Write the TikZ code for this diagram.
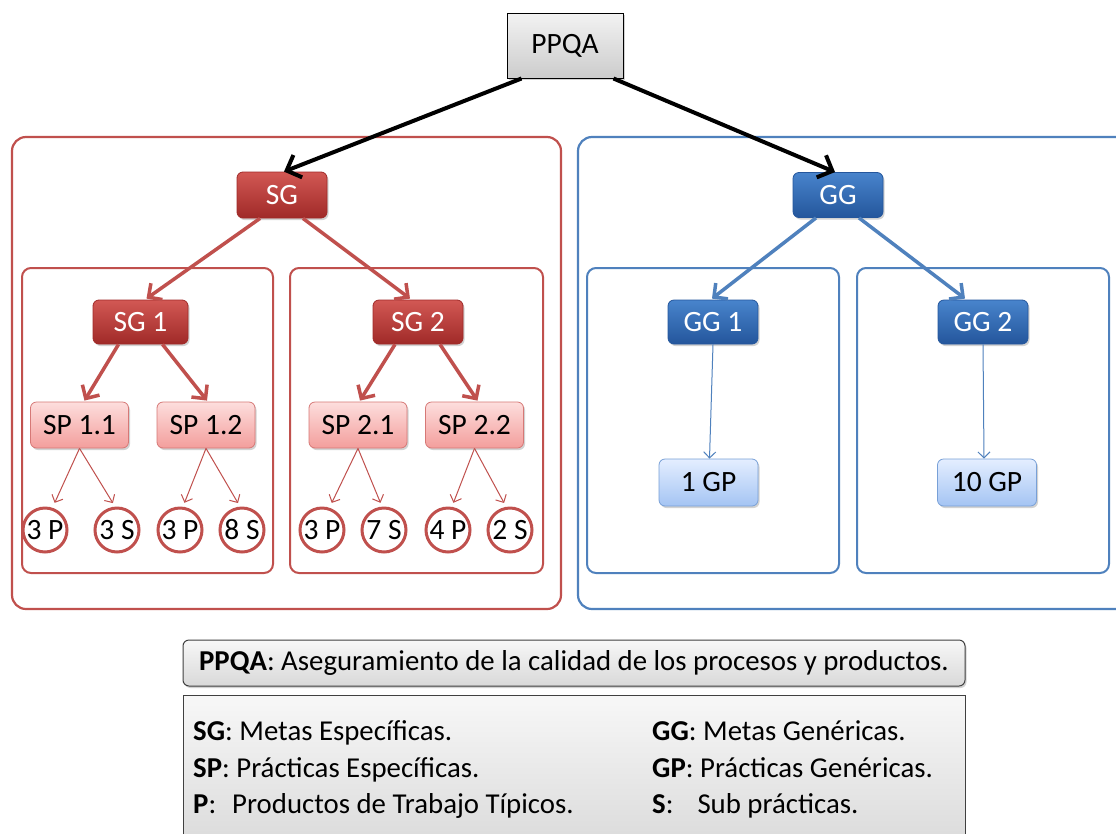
\documentclass[tikz,border=0pt]{standalone}
\usepackage{fontspec}
\setmainfont{Carlito}
\usetikzlibrary{arrows.meta,shadows}
\definecolor{redB}{RGB}{192,80,77}
\definecolor{redT}{RGB}{210,88,84}
\definecolor{redD}{RGB}{160,42,40}
\definecolor{pinkT}{RGB}{253,222,221}
\definecolor{pinkB}{RGB}{243,158,156}
\definecolor{pinkE}{RGB}{214,120,118}
\definecolor{blueB}{RGB}{79,129,189}
\definecolor{blueT}{RGB}{72,132,204}
\definecolor{blueD}{RGB}{36,86,156}
\definecolor{lbT}{RGB}{228,238,255}
\definecolor{lbB}{RGB}{164,196,243}
\definecolor{lbE}{RGB}{120,160,215}
\tikzset{
  x=1pt,y=-1pt,
  every node/.style={font=\fontsize{29.5}{33}\selectfont, inner sep=0pt},
  shad/.style={drop shadow={shadow xshift=1.5pt,shadow yshift=-2pt,opacity=0.35}},
  outerred/.style={draw=redB,line width=2.2pt,rounded corners=14pt},
  outerblue/.style={draw=blueB,line width=2.2pt,rounded corners=14pt},
  innerred/.style={draw=redB,line width=2pt,rounded corners=9pt},
  innerblue/.style={draw=blueB,line width=2pt,rounded corners=9pt},
  ppqabox/.style={draw=black,line width=1pt,top color=gray!10,bottom color=gray!40,minimum width=116pt,minimum height=65pt,shad},
  goalred/.style={draw=redD,line width=0.8pt,rounded corners=6pt,top color=redT,bottom color=redD,text=white,minimum width=90pt,minimum height=46pt,shad},
  goalblue/.style={draw=blueD,line width=0.8pt,rounded corners=6pt,top color=blueT,bottom color=blueD,text=white,minimum width=90pt,minimum height=45pt,shad},
  spbox/.style={draw=pinkE,line width=0.8pt,rounded corners=6pt,top color=pinkT,bottom color=pinkB,minimum width=98pt,minimum height=46pt,shad},
  gpbox/.style={draw=lbE,line width=0.8pt,rounded corners=6pt,top color=lbT,bottom color=lbB,minimum width=99pt,minimum height=47pt,shad},
  leaf/.style={circle,draw=redB,line width=3pt,fill=white,minimum size=44pt},
  bigarrow/.style={line width=4pt,-{Straight Barb[length=12pt,width=24pt,line width=4pt]}},
  redarrow/.style={draw=redB,line width=3.5pt,-{Straight Barb[length=10pt,width=20pt,line width=3.5pt]}},
  bluearrow/.style={draw=blueB,line width=3.5pt,-{Straight Barb[length=10pt,width=20pt,line width=3.5pt]}},
  thinred/.style={draw=redB,line width=1pt,-{Straight Barb[length=6pt,width=12pt,line width=1pt]}},
  thinblue/.style={draw=blueB,line width=1pt,-{Straight Barb[length=6pt,width=12pt,line width=1pt]}},
  legbox/.style={draw=black!75,line width=1pt,top color=gray!6,bottom color=gray!30,font=\fontsize{28.8}{32}\selectfont},
  legtext/.style={anchor=base west,font=\fontsize{28.8}{32}\selectfont},
}
\begin{document}
\begin{tikzpicture}
\useasboundingbox (0,0) rectangle (1116,833);
\clip (0,0) rectangle (1116,833);
\fill[white] (0,0) rectangle (1116,833);
% group frames
\draw[outerred] (12,137) rectangle (561,609);
\draw[outerblue] (578,137) rectangle (1140,609);
\draw[innerred] (22,268) rectangle (273,573);
\draw[innerred] (290,268) rectangle (543,573);
\draw[innerblue] (587,268) rectangle (839,573);
\draw[innerblue] (857,268) rectangle (1109,573);
% nodes
\node[ppqabox] (ppqa) at (565,45.5) {PPQA};
\node[goalred] (sg) at (282,195) {SG};
\node[goalblue] (gg) at (838,195) {GG};
\node[goalred,minimum width=95pt,minimum height=44pt] (sg1) at (140.5,322) {SG 1};
\node[goalred,minimum height=44pt] (sg2) at (418,322) {SG 2};
\node[goalblue,minimum height=44pt] (gg1) at (713,322) {GG 1};
\node[goalblue,minimum height=44pt] (gg2) at (983,322) {GG 2};
\node[spbox] (sp11) at (79.5,425) {SP 1.1};
\node[spbox] (sp12) at (206,425) {SP 1.2};
\node[spbox] (sp21) at (358,425) {SP 2.1};
\node[spbox] (sp22) at (474.5,425) {SP 2.2};
\node[leaf] (c1) at (45,530) {3 P};
\node[leaf] (c2) at (117,530) {3 S};
\node[leaf] (c3) at (180,530) {3 P};
\node[leaf] (c4) at (242,530) {8 S};
\node[leaf] (c5) at (322,530) {3 P};
\node[leaf] (c6) at (384,530) {7 S};
\node[leaf] (c7) at (448,530) {4 P};
\node[leaf] (c8) at (510,530) {2 S};
\node[gpbox] (gp1) at (708.5,482.5) {1 GP};
\node[gpbox] (gp2) at (987,482.5) {10 GP};
% connectors
\draw[bigarrow] ([xshift=15pt]ppqa.south west) -- ([xshift=2pt]sg.north);
\draw[bigarrow] ([xshift=-10pt]ppqa.south east) -- ([xshift=-3pt]gg.north);
\draw[redarrow] ([xshift=-22pt]sg.south) -- ([xshift=6pt,yshift=1pt]sg1.north);
\draw[redarrow] ([xshift=21pt]sg.south) -- ([xshift=-8pt,yshift=1pt]sg2.north);
\draw[bluearrow] ([xshift=-22pt]gg.south) -- ([xshift=-1pt,yshift=1pt]gg1.north);
\draw[bluearrow] ([xshift=21pt]gg.south) -- ([xshift=-18pt,yshift=1pt]gg2.north);
\draw[redarrow] ([xshift=-22pt]sg1.south) -- ([xshift=5pt,yshift=1pt]sp11.north);
\draw[redarrow] ([xshift=22pt]sg1.south) -- ([xshift=1pt,yshift=1pt]sp12.north);
\draw[redarrow] ([xshift=-23pt]sg2.south) -- ([xshift=2pt,yshift=1pt]sp21.north);
\draw[redarrow] ([xshift=22pt]sg2.south) -- ([xshift=3pt,yshift=1pt]sp22.north);
\draw[thinred,shorten >=4pt] (sp11.south) -- ([xshift=8pt]c1.north);
\draw[thinred,shorten >=4pt] (sp11.south) -- ([xshift=-2pt]c2.north);
\draw[thinred,shorten >=4pt] (sp12.south) -- ([xshift=3pt]c3.north);
\draw[thinred,shorten >=4pt] (sp12.south) -- ([xshift=-2pt]c4.north);
\draw[thinred,shorten >=4pt] (sp21.south) -- ([xshift=8pt]c5.north);
\draw[thinred,shorten >=4pt] (sp21.south) -- ([xshift=-2pt]c6.north);
\draw[thinred,shorten >=4pt] (sp22.south) -- ([xshift=4pt]c7.north);
\draw[thinred,shorten >=4pt] (sp22.south) -- ([xshift=-4pt]c8.north);
\draw[thinblue] (gg1.south) -- ([xshift=1pt]gp1.north);
\draw[thinblue] (gg2.south) -- ([xshift=-3pt]gp2.north);
% legends
\node[legbox,rounded corners=6pt,minimum width=782pt,minimum height=46pt,shad] (leg1) at (574,663)
  {\textbf{PPQA}: Aseguramiento de la calidad de los procesos y productos.};
\node[legbox,minimum width=782pt,minimum height=160pt,anchor=north west] (leg2) at (183,695) {};
\node[legtext] (l1) at (193,740) {\textbf{SG}: Metas Específicas.};
\node[legtext] (l2) at (193,777) {\textbf{SP}: Prácticas Específicas.};
\node[legtext] (l3) at (193,813) {\textbf{P}:\hspace{16pt}Productos de Trabajo Típicos.};
\node[legtext] (r1) at (652,740) {\textbf{GG}: Metas Genéricas.};
\node[legtext] (r2) at (652,777) {\textbf{GP}: Prácticas Genéricas.};
\node[legtext] (r3) at (652,813) {\textbf{S}:\hspace{24pt}Sub prácticas.};
\end{tikzpicture}
\end{document}
